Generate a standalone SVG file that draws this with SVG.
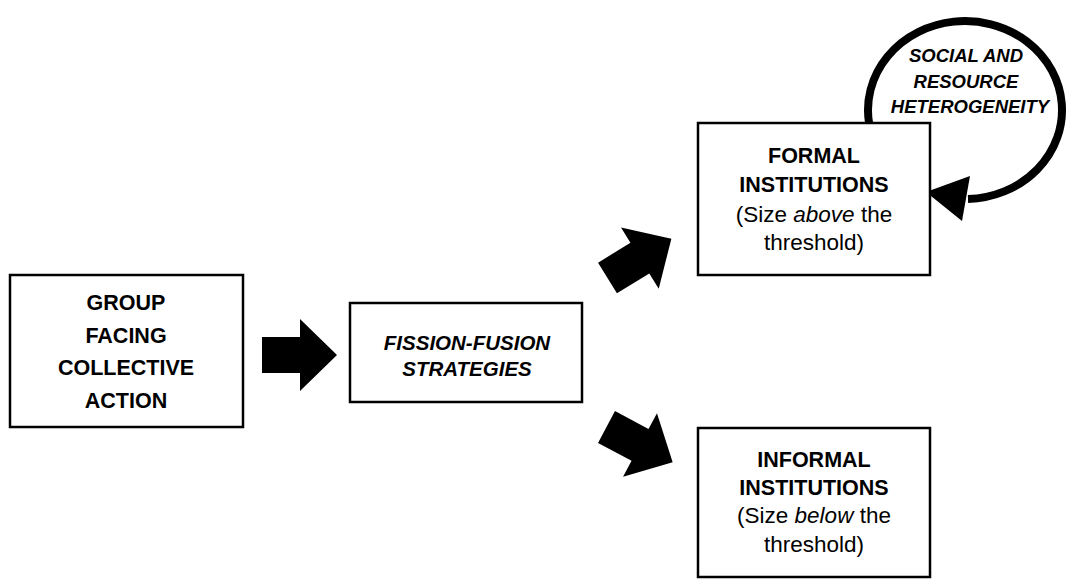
<svg xmlns="http://www.w3.org/2000/svg" xmlns:xlink="http://www.w3.org/1999/xlink" width="1067" height="580" viewBox="0 0 1067 580">
<style>
.box{fill:#fff;stroke:#000;stroke-width:2.5}
.t{font-family:"Liberation Sans",Arial,sans-serif;font-size:22.5px;fill:#000;text-anchor:middle}
.b{font-weight:bold;font-size:21.5px}
.bi{font-weight:bold;font-style:italic;font-size:20.5px}
.lp{font-weight:bold;font-style:italic;font-size:18.5px}
.i{font-style:italic}
.blk{fill:#000}
</style>
<defs>
<path id="barrow" d="M0,-18 L38,-18 L38,-36 L75,0 L38,36 L38,18 L0,18 Z"/>
</defs>
<rect width="1067" height="580" fill="#fff"/>
<g id="connectors">
<use xlink:href="#barrow" class="blk" transform="translate(262,355)"/>
<use xlink:href="#barrow" class="blk" transform="translate(607.5,278) rotate(-31.6)"/>
<use xlink:href="#barrow" class="blk" transform="translate(606.5,427) rotate(28.1)"/>
<g id="loop">
<path d="M869.2,124 A97,89 0 1 1 968,199" fill="none" stroke="#000" stroke-width="8"/>
<polygon points="926,192 970,176 962,221" fill="#000"/>
<text class="t lp" x="966" y="62">SOCIAL AND</text>
<text class="t lp" x="966" y="88">RESOURCE</text>
<text class="t lp" x="970" y="113">HETEROGENEITY</text>
</g>
</g>
<g id="group">
<rect class="box" x="10" y="275" width="233" height="152"/>
<text class="t b" x="126" y="310">GROUP</text>
<text class="t b" x="126" y="343">FACING</text>
<text class="t b" x="126" y="375">COLLECTIVE</text>
<text class="t b" x="126" y="408">ACTION</text>
</g>
<g id="fission">
<rect class="box" x="350" y="303" width="232" height="99"/>
<text class="t bi" x="467" y="350">FISSION-FUSION</text>
<text class="t bi" x="467" y="376">STRATEGIES</text>
</g>
<g id="formal">
<rect class="box" x="698" y="123" width="232" height="152"/>
<text class="t b" x="814" y="163">FORMAL</text>
<text class="t b" x="814" y="192">INSTITUTIONS</text>
<text class="t" x="814" y="222">(Size <tspan class="i">above</tspan> the</text>
<text class="t" x="814" y="250">threshold)</text>
</g>
<g id="informal">
<rect class="box" x="698" y="428" width="232" height="149"/>
<text class="t b" x="814" y="467">INFORMAL</text>
<text class="t b" x="814" y="495">INSTITUTIONS</text>
<text class="t" x="814" y="523">(Size <tspan class="i">below</tspan> the</text>
<text class="t" x="814" y="552">threshold)</text>
</g>
</svg>
